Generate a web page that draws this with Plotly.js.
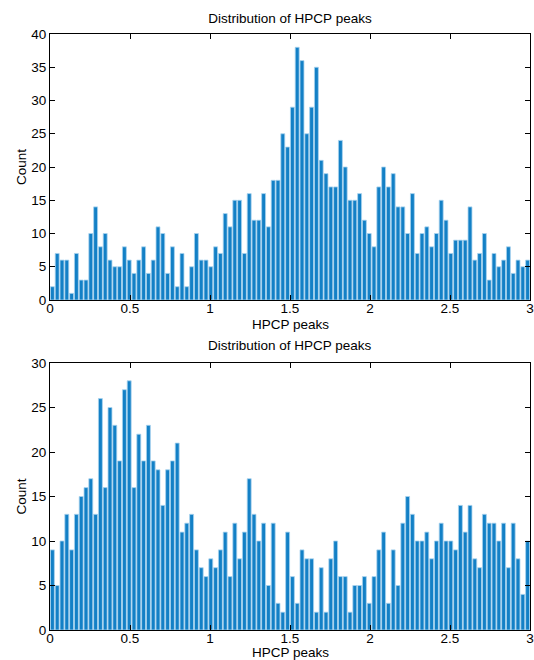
<!DOCTYPE html>
<html>
<head>
<meta charset="utf-8">
<script src="https://cdn.plot.ly/plotly-3.0.1.min.js"></script>
<style>html,body{margin:0;padding:0;background:#fff;}#chart{width:534px;height:660px;}</style>
</head>
<body>
<div id="chart"></div>
<script>
// Bin settings (100 bins over 0..3)
const binStart = 0.015;
const binWidth = 0.03;

// Top histogram counts
const countsTop = [
  2,7,6,6,1,7,3,3,10,14,8,10,6,5,5,8,6,4,6,8,4,6,11,10,4,8,2,7,2,5,10,6,6,
  5,8,7,13,11,15,15,7,16,12,12,16,11,18,18,25,23,29,38,36,25,29,35,21,19,17,17,24,20,15,15,16,12,
  10,8,17,20,17,19,14,14,10,16,7,10,11,8,10,15,12,7,9,9,9,14,6,7,10,3,7,5,6,8,4,6,5,6
];

// Bottom histogram counts
const countsBottom = [
  9,5,10,13,9,13,15,16,17,13,26,16,25,23,19,27,28,16,22,19,23,19,18,14,18,19,21,11,12,13,9,7,6,
  8,7,9,11,6,12,8,11,17,13,10,12,5,12,3,2,11,6,3,9,8,8,2,7,2,8,10,6,6,2,5,5,6,
  3,6,9,11,3,9,5,12,15,13,10,10,11,8,10,12,10,10,9,14,11,14,8,7,13,12,12,10,12,7,12,8,4,10
];

const xTicks = [0, 0.5, 1, 1.5, 2, 2.5, 3];
const xTickText = ['0', '0.5', '1', '1.5', '2', '2.5', '3'];
const yTicksTop = [0, 5, 10, 15, 20, 25, 30, 35, 40];
const yTicksBottom = [0, 5, 10, 15, 20, 25, 30];

const titleText = 'Distribution of HPCP peaks';
const xTitle = 'HPCP peaks';
const yTitle = 'Count';

const barColor = '#1380c6';
const edgeColor = '#a9d3ef';
const fontFam = '"Liberation Sans", Arial, Helvetica, sans-serif';
const fs = 13.5;

const traces = [
  {type: 'bar', x0: binStart, dx: binWidth, y: countsTop, xaxis: 'x', yaxis: 'y',
   marker: {color: barColor, line: {color: edgeColor, width: 0.8}}, hoverinfo: 'x+y'},
  {type: 'bar', x0: binStart, dx: binWidth, y: countsBottom, xaxis: 'x2', yaxis: 'y2',
   marker: {color: barColor, line: {color: edgeColor, width: 0.8}}, hoverinfo: 'x+y'}
];

function xAxis(anchor) {
  return {
    anchor: anchor, domain: [0, 1], range: [0, 3], tickvals: xTicks, ticktext: xTickText,
    ticks: 'inside', ticklen: 5, tickcolor: '#000', tickwidth: 1, ticklabelstandoff: -4,
    showline: true, linecolor: '#000', linewidth: 1, mirror: 'ticks',
    showgrid: false, zeroline: false, automargin: false,
    tickfont: {size: fs, color: '#000', family: fontFam}
  };
}
function yAxis(anchor, domain, maxv, ticks) {
  return {
    anchor: anchor, domain: domain, range: [0, maxv], tickvals: ticks,
    ticks: 'inside', ticklen: 5, tickcolor: '#000', tickwidth: 1,
    showline: true, linecolor: '#000', linewidth: 1, mirror: 'ticks',
    showgrid: false, zeroline: false, automargin: false,
    tickfont: {size: fs, color: '#000', family: fontFam},
    title: {text: yTitle, font: {size: fs, color: '#000', family: fontFam}, standoff: 1}
  };
}

const H = 660, mt = 20, mb = 20;
const ph = H - mt - mb;
function py2paper(py) { return (H - mb - py) / ph; }

function textAnn(text, py, anchor) {
  return {text: text, xref: 'paper', yref: 'paper', x: 0.5, y: py2paper(py), xanchor: 'center', yanchor: anchor || 'middle',
          showarrow: false, borderpad: 0, font: {size: fs, color: '#000', family: fontFam}};
}

const layout = {
  width: 534, height: 660,
  margin: {l: 50, r: 4, t: mt, b: mb},
  paper_bgcolor: '#fff', plot_bgcolor: '#fff',
  showlegend: false, bargap: 0.18,
  font: {family: fontFam, color: '#000', size: fs},
  title: {text: titleText, x: 0.5, xref: 'paper', xanchor: 'center', y: 1 - 18 / H, yanchor: 'middle',
          font: {size: fs, color: '#000', family: fontFam}},
  xaxis: xAxis('y'),
  yaxis: yAxis('x', [py2paper(300), py2paper(34)], 40, yTicksTop),
  xaxis2: xAxis('y2'),
  yaxis2: yAxis('x2', [py2paper(630), py2paper(363)], 30, yTicksBottom),
  annotations: [
    textAnn(xTitle, 324),
    textAnn(titleText, 345),
    textAnn(xTitle, 661, 'bottom')
  ]
};

Plotly.newPlot('chart', traces, layout, {displayModeBar: false, staticPlot: true});
</script>
</body>
</html>
